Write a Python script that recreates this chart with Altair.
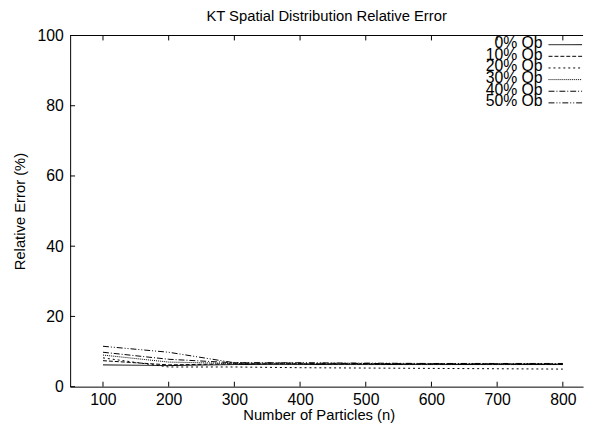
import altair as alt
import pandas as pd

particles = [100, 200, 300, 400, 500, 600, 700, 800]
series_names = ["0% Ob", "10% Ob", "20% Ob", "30% Ob", "40% Ob", "50% Ob"]
err_0 = [6.2, 6.0, 6.3, 6.3, 6.3, 6.3, 6.3, 6.3]
err_10 = [7.4, 6.2, 6.5, 6.5, 6.4, 6.4, 6.4, 6.3]
err_20 = [8.2, 5.6, 5.6, 5.4, 5.3, 5.2, 5.1, 5.0]
err_30 = [9.0, 7.0, 6.6, 6.5, 6.5, 6.4, 6.4, 6.4]
err_40 = [9.8, 7.8, 6.8, 6.7, 6.6, 6.5, 6.5, 6.5]
err_50 = [11.5, 9.8, 6.8, 6.8, 6.7, 6.6, 6.6, 6.6]
x_ticks = [100, 200, 300, 400, 500, 600, 700, 800]
y_ticks = [0, 20, 40, 60, 80, 100]

all_err = [err_0, err_10, err_20, err_30, err_40, err_50]
dashes = [[1, 0], [4, 2], [2, 3], [1, 1], [6, 2, 1, 2], [6, 2, 1, 2, 1, 2]]

W, H = 520, 356
FONT = "Liberation Sans"

xscale = alt.Scale(domain=[50, 830.8], nice=False, zero=False)
yscale = alt.Scale(domain=[0, 100], nice=False)

layers = []
base_axes = alt.Chart(pd.DataFrame({"x": [100], "y": [0]})).mark_point(opacity=0).encode(
    x=alt.X("x:Q", scale=xscale,
            axis=alt.Axis(values=x_ticks, title="Number of Particles (n)", grid=False,
                          ticks=False, labelPadding=5, titleX=252, titleY=28,
                          titleBaseline="middle",
                          titleFontWeight="normal", titleFontSize=15, labelFontSize=16,
                          domainColor="black", labelColor="black", titleColor="black")),
    y=alt.Y("y:Q", scale=yscale,
            axis=alt.Axis(values=y_ticks, title="Relative Error (%)", grid=False,
                          ticks=False, labelPadding=7, titleX=-43,
                          titleFontWeight="normal", titleFontSize=15, labelFontSize=16,
                          domainColor="black", labelColor="black", titleColor="black")),
)
layers.append(base_axes)

# top frame line
layers.append(alt.Chart(pd.DataFrame({"a": [0]})).mark_rule(color="black", strokeWidth=1).encode(
    x=alt.value(0), x2=alt.value(W), y=alt.value(0)))

# inward ticks
xt = pd.DataFrame({"x": x_ticks})
layers.append(alt.Chart(xt).mark_rule(color="black").encode(
    x=alt.X("x:Q", scale=xscale), y=alt.value(H), y2=alt.value(H - 5)))
layers.append(alt.Chart(xt).mark_rule(color="black").encode(
    x=alt.X("x:Q", scale=xscale), y=alt.value(0), y2=alt.value(5)))
yt = pd.DataFrame({"y": y_ticks})
layers.append(alt.Chart(yt).mark_rule(color="black").encode(
    y=alt.Y("y:Q", scale=yscale), x=alt.value(0), x2=alt.value(5)))

for i, (name, vals) in enumerate(zip(series_names, all_err)):
    df = pd.DataFrame({"n": particles, "err": vals})
    layers.append(alt.Chart(df).mark_line(color="black", strokeWidth=1, strokeDash=dashes[i]).encode(
        x=alt.X("n:Q", scale=xscale), y=alt.Y("err:Q", scale=yscale)))
    ly = 9.3 + 11.8 * i
    layers.append(alt.Chart(pd.DataFrame({"a": [0]})).mark_rule(
        color="black", strokeWidth=1, strokeDash=dashes[i]).encode(
        x=alt.value(485), x2=alt.value(519), y=alt.value(ly)))
    layers.append(alt.Chart(pd.DataFrame({"t": [name]})).mark_text(
        align="right", baseline="middle", fontSize=16, font=FONT, color="black").encode(
        x=alt.value(479), y=alt.value(ly - 1.5), text="t:N"))

chart = alt.layer(*layers).properties(
    width=W, height=H,
    title=alt.TitleParams("KT Spatial Distribution Relative Error", fontSize=15,
                          fontWeight="normal", font=FONT, color="black", offset=4),
    autosize=alt.AutoSizeParams(type="none"),
    padding={"left": 63, "top": 25, "right": 5, "bottom": 37},
).configure_view(stroke=None).configure_axis(labelFont=FONT, titleFont=FONT)

chart.save("out.html", embed_options={"renderer": "svg", "actions": False})
